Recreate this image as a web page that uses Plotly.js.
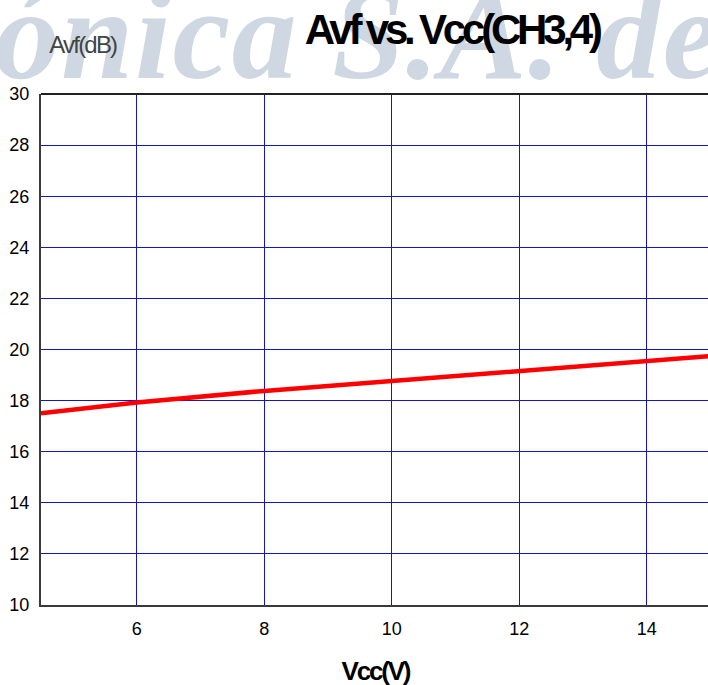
<!DOCTYPE html>
<html>
<head>
<meta charset="utf-8">
<script src="https://cdn.plot.ly/plotly-3.0.1.min.js"></script>
<style>
html,body{margin:0;padding:0;background:#fff;}
#chart{width:708px;height:685px;}
</style>
</head>
<body>
<div id="chart"></div>
<script>
// Data
const vcc = [4.5, 6, 8, 10, 12, 14, 15];
const avf = [17.5, 17.93, 18.38, 18.77, 19.14, 19.52, 19.74];
const xTicks = [6, 8, 10, 12, 14];
const yTicks = [10, 12, 14, 16, 18, 20, 22, 24, 26, 28, 30];

const chartTitle = 'Avf vs. Vcc(CH3,4)';
const xTitle = 'Vcc(V)';
const yTitle = 'Avf(dB)';
const watermark = 'rónica S.A. de';

const trace = {
  x: vcc, y: avf, type: 'scatter', mode: 'lines',
  line: {color: '#ff0000', width: 4.5},
  hoverinfo: 'skip'
};

const sans = 'Liberation Sans, Arial, sans-serif';

const layout = {
  width: 708, height: 685,
  margin: {l: 41, r: 0, t: 93.5, b: 79.5},
  paper_bgcolor: '#ffffff', plot_bgcolor: '#ffffff',
  showlegend: false,
  font: {family: sans, color: '#000', size: 18},
  xaxis: {
    range: [4.5, 14.96], tickvals: xTicks, ticktext: xTicks.map(String),
    showgrid: true, gridcolor: '#1414c8', gridwidth: 1,
    zeroline: false, showline: true, linecolor: '#3a3a3a', linewidth: 2,
    ticks: '', tickfont: {family: sans, size: 18, color: '#000'}, ticklabelstandoff: 6,
    fixedrange: true
  },
  yaxis: {
    range: [10, 30], tickvals: yTicks, ticktext: yTicks.map(String),
    showgrid: true, gridcolor: '#1414c8', gridwidth: 1,
    zeroline: false, showline: true, linecolor: '#3a3a3a', linewidth: 2,
    ticks: '', tickfont: {family: sans, size: 18, color: '#000'}, ticklabelstandoff: 6,
    fixedrange: true
  },
  shapes: [{type: 'line', xref: 'paper', yref: 'paper', x0: 0, x1: 1, y0: 1, y1: 1,
    line: {color: '#222', width: 2}}],
  annotations: [
    {text: watermark, xref: 'paper', yref: 'paper', x: -0.135, y: 1, xanchor: 'left', yanchor: 'bottom',
     yshift: -14, showarrow: false,
     font: {family: 'Liberation Serif, DejaVu Serif, serif', size: 130, color: '#cfd8e2', style: 'italic', weight: 'bold'}},
    {text: '<b>' + chartTitle + '</b>', xref: 'paper', yref: 'paper', x: 0.616, y: 1, xanchor: 'center', yanchor: 'bottom',
     yshift: 39, showarrow: false, font: {family: sans, size: 42, color: '#000'}},
    {text: yTitle, xref: 'paper', yref: 'paper', x: 0.063, y: 1, xanchor: 'center', yanchor: 'bottom',
     yshift: 34, showarrow: false, font: {family: sans, size: 24, color: '#444'}},
    {text: '<b>' + xTitle + '</b>', xref: 'paper', yref: 'paper', x: 0.502, y: 0, xanchor: 'center', yanchor: 'top',
     yshift: -49, showarrow: false, font: {family: sans, size: 26, color: '#000'}}
  ]
};

Plotly.newPlot('chart', [trace], layout, {displayModeBar: false, staticPlot: true}).then(function(){
  const anns = document.querySelectorAll('.annotation-text');
  const spacing = ['1.5px', '-4.2px', '-1.8px', '-2.2px'];
  anns.forEach(function(el, i){ if (spacing[i]) el.style.letterSpacing = spacing[i]; });
});
</script>
</body>
</html>
